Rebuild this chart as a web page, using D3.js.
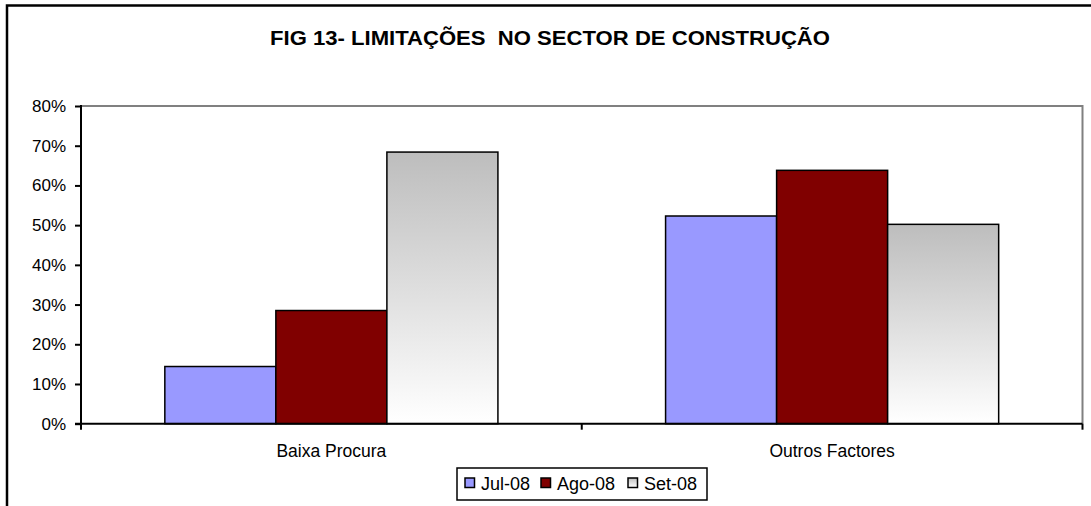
<!DOCTYPE html>
<html><head><meta charset="utf-8">
<script src="https://cdn.jsdelivr.net/npm/d3@7"></script>
<style>html,body{margin:0;padding:0;background:#fff;}svg{display:block;}</style>
</head><body>
<script>
const categories = ["Baixa Procura", "Outros Factores"];
const seriesNames = ["Jul-08", "Ago-08", "Set-08"];
const jul08 = [0.144, 0.523];
const ago08 = [0.285, 0.638];
const set08 = [0.684, 0.502];
const yTicks = [0, 0.1, 0.2, 0.3, 0.4, 0.5, 0.6, 0.7, 0.8];
const title = "FIG 13- LIMITAÇÕES  NO SECTOR DE CONSTRUÇÃO";

const series = [jul08, ago08, set08];
const W = 1091, H = 506;
const font = "'Liberation Sans', Arial, sans-serif";
const svg = d3.select("body").append("svg").attr("width", W).attr("height", H);

const defs = svg.append("defs");
const grad = defs.append("linearGradient").attr("id", "gsep")
  .attr("x1", 0).attr("y1", 0).attr("x2", 0).attr("y2", 1);
grad.append("stop").attr("offset", "0%").attr("stop-color", "#bdbdbd");
grad.append("stop").attr("offset", "100%").attr("stop-color", "#ffffff");
const fills = ["#9999ff", "#800000", "url(#gsep)"];

// outer border (left and top visible)
svg.append("path").attr("d", `M7,${H+5} L7,5.5 L${W+5},5.5`)
  .attr("fill", "none").attr("stroke", "#000").attr("stroke-width", 2.5);

svg.append("text").attr("x", 550).attr("y", 45).attr("text-anchor", "middle")
  .attr("font-family", font).attr("font-weight", "bold").attr("font-size", 21)
  .attr("textLength", 560).attr("lengthAdjust", "spacingAndGlyphs")
  .style("white-space", "pre").text(title);

const L = 81, R = 1082.5, T = 106, B = 423.7;
const x0 = d3.scaleBand().domain(categories).range([L, R]).paddingInner(0).paddingOuter(0);
const x1 = d3.scaleBand().domain(seriesNames).range([0, x0.bandwidth()]).paddingInner(0).paddingOuter(0.755);
const y = d3.scaleLinear().domain([0, 0.8]).range([B, T]);

// plot border (grey top and right)
svg.append("path").attr("d", `M${L},${T} L${R},${T} L${R},${B}`)
  .attr("fill", "none").attr("stroke", "#808080").attr("stroke-width", 2);

// bars
const g = svg.append("g");
categories.forEach((c, ci) => {
  seriesNames.forEach((s, si) => {
    const v = series[si][ci];
    g.append("rect")
      .attr("x", x0(c) + x1(s)).attr("y", y(v))
      .attr("width", x1.bandwidth()).attr("height", y(0) - y(v))
      .attr("fill", fills[si]).attr("stroke", "#000").attr("stroke-width", 1.5);
  });
});

// y axis
const ya = svg.append("g").attr("transform", `translate(${L},0)`)
  .call(d3.axisLeft(y).tickValues(yTicks).tickFormat(d3.format(".0%")).tickSize(6).tickPadding(9));
ya.select(".domain").attr("stroke", "#000").attr("stroke-width", 2).attr("d", `M0,${T-1}V${B}`);
ya.selectAll(".tick line").attr("stroke", "#000").attr("stroke-width", 2);
ya.selectAll(".tick text").attr("font-family", font).attr("font-size", 17).attr("fill", "#000");

// x axis
const xa = svg.append("g").attr("transform", `translate(0,${B})`);
xa.append("line").attr("x1", L - 6).attr("x2", R).attr("y1", 0).attr("y2", 0)
  .attr("stroke", "#000").attr("stroke-width", 2);
[L, x0(categories[1]), R].forEach(px => {
  xa.append("line").attr("x1", px).attr("x2", px).attr("y1", 0).attr("y2", 6)
    .attr("stroke", "#000").attr("stroke-width", 2);
});
categories.forEach(c => {
  xa.append("text").attr("x", x0(c) + x0.bandwidth() / 2).attr("y", 33.5)
    .attr("text-anchor", "middle").attr("font-family", font).attr("font-size", 17.5).text(c);
});

// legend
const lg = svg.append("g");
lg.append("rect").attr("x", 457).attr("y", 468).attr("width", 250).attr("height", 32)
  .attr("fill", "#fff").attr("stroke", "#000").attr("stroke-width", 1.5);
const itemX = [465, 541, 628];
seriesNames.forEach((s, i) => {
  lg.append("rect").attr("x", itemX[i]).attr("y", 478).attr("width", 9.5).attr("height", 9.5)
    .attr("fill", i === 2 ? "url(#gsep)" : fills[i]).attr("stroke", "#000").attr("stroke-width", 1.5);
  lg.append("text").attr("x", itemX[i] + 16).attr("y", 490).attr("font-family", font)
    .attr("font-size", 18).text(s);
});
</script>
</body></html>
